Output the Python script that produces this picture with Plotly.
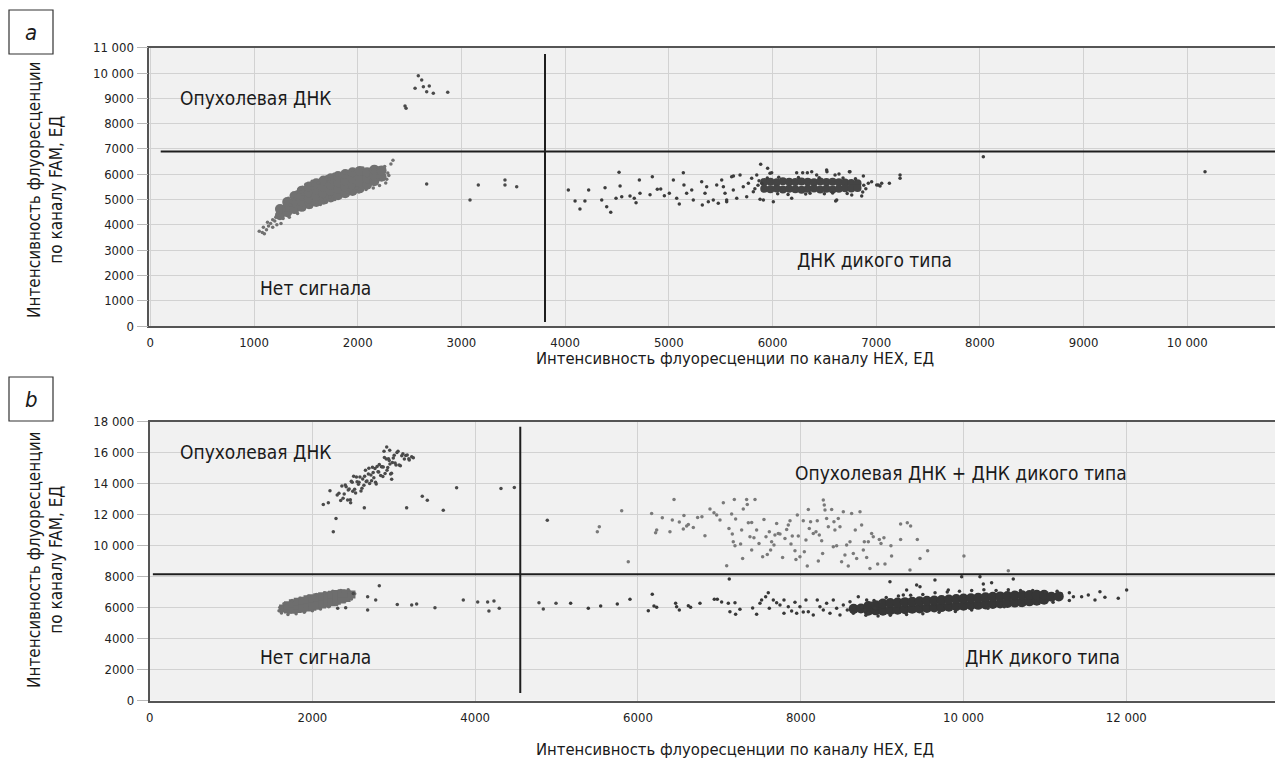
import plotly.graph_objects as go

# ---------------- Panel a data (HEX, FAM intensity) ----------------
a_xticks = [0, 1000, 2000, 3000, 4000, 5000, 6000, 7000, 8000, 9000, 10000]
a_xtext = ["0", "1000", "2000", "3000", "4000", "5000", "6000", "7000", "8000", "9000", "10 000"]
a_yticks = [0, 1000, 2000, 3000, 4000, 5000, 6000, 7000, 8000, 9000, 10000, 11000]
a_ytext = ["0", "1000", "2000", "3000", "4000", "5000", "6000", "7000", "8000", "9000", "10 000", "11 000"]

a_thr_hex = 3806
a_thr_hex_span = [160, 10750]
a_thr_fam = 6900
a_thr_fam_span = [100, 10923]

# "no signal" cluster: dense core and scattered droplets
a_neg_core = [
    (1250, 4380), (1250, 4620),
    (1320, 4500), (1320, 4700), (1320, 4900),
    (1390, 4620), (1390, 4880), (1390, 5140),
    (1460, 4710), (1460, 4920), (1460, 5140), (1460, 5350),
    (1530, 4810), (1530, 5040), (1530, 5280), (1530, 5510),
    (1600, 4900), (1600, 5150), (1600, 5390), (1600, 5640),
    (1670, 4990), (1670, 5250), (1670, 5490), (1670, 5750),
    (1740, 5080), (1740, 5340), (1740, 5580), (1740, 5840),
    (1810, 5170), (1810, 5430), (1810, 5670), (1810, 5930),
    (1880, 5250), (1880, 5510), (1880, 5750), (1880, 6010),
    (1950, 5340), (1950, 5590), (1950, 5830), (1950, 6080),
    (2020, 5440), (2020, 5680), (2020, 5900), (2020, 6130),
    (2090, 5580), (2090, 5830), (2090, 6080),
    (2160, 5720), (2160, 5950), (2160, 6180),
    (2230, 5900), (2230, 6150),
]
a_neg_edge = [
    (1050, 3750), (1080, 3700), (1100, 3650), (1120, 3800), (1090, 3900), (1140, 3950),
    (1160, 4050), (1130, 4100), (1180, 3900), (1200, 4150), (1220, 4000), (1210, 4300),
    (1260, 4050), (1280, 4250), (1300, 4950), (1340, 4300), (1370, 5200), (1420, 4450),
    (1450, 5300), (1480, 4600), (1500, 5600), (1550, 4700), (1620, 5650), (1640, 4800),
    (1700, 4900), (1720, 5800), (1780, 5000), (1800, 5950), (1860, 5150), (1870, 6050),
    (1940, 5250), (1950, 6150), (2010, 5300), (2050, 6250), (2080, 5400), (2120, 6200),
    (2150, 5450), (2200, 6250), (2210, 5550), (2260, 6300), (2280, 5800), (2290, 6050),
    (2300, 5950), (2320, 6400), (2340, 6550), (2270, 5650), (1560, 5450), (1400, 5050),
    (1180, 4200), (1230, 4480), (1290, 4600), (1350, 4780), (1420, 5000), (1490, 4720),
    (1570, 4850), (1650, 5000), (1730, 5100), (1900, 5300), (1990, 5450), (2190, 5800),
    (1330, 5050), (1410, 5300), (1470, 5480), (1560, 5720), (1700, 5900), (1770, 6000),
]
# tumour DNA droplets
a_mut = [
    (2584, 9893), (2617, 9723), (2553, 9394), (2633, 9460), (2690, 9486),
    (2665, 9262), (2729, 9198), (2868, 9237), (2456, 8696), (2466, 8605),
]
# scattered droplets between clusters
a_mid = [(2665, 5613), (3163, 5573), (3083, 4980), (3420, 5771), (3420, 5573), (3533, 5506)]
# wild-type cluster
a_wt_core = [
    (5920, 5690), (5980, 5700), (6040, 5680), (6100, 5720), (6160, 5700), (6220, 5690),
    (6280, 5710), (6340, 5700), (6400, 5680), (6460, 5710), (6520, 5690), (6580, 5700),
    (6640, 5680), (6700, 5670), (6760, 5650), (6820, 5640),
    (5920, 5420), (5980, 5410), (6040, 5430), (6100, 5400), (6160, 5420), (6220, 5410),
    (6280, 5390), (6340, 5420), (6400, 5430), (6460, 5400), (6520, 5420), (6580, 5400),
    (6640, 5420), (6700, 5440), (6760, 5430), (6820, 5450),
]
a_wt_edge = [
    (4031, 5375), (4096, 4941), (4143, 4625), (4191, 4941), (4227, 5375), (4353, 4980),
    (4385, 5467), (4401, 4717), (4440, 4493), (4491, 5046), (4520, 6074), (4530, 5534),
    (4546, 5112), (4626, 5138), (4667, 5046), (4684, 4875), (4716, 5771), (4722, 5244),
    (4819, 5190), (4841, 5901), (4889, 5402), (4922, 5415), (4957, 5151), (5005, 5244),
    (5044, 5771), (5076, 5046), (5101, 4822), (5140, 6060), (5146, 5573), (5172, 5244),
    (5221, 5375), (5236, 4980), (5317, 5705), (5323, 4783), (5349, 5244), (5365, 5506),
    (5381, 4914), (5429, 4980), (5462, 5573), (5477, 4849), (5510, 5771), (5542, 5244),
    (5558, 4914), (5606, 5901), (5622, 5375), (5655, 5046), (5687, 5968), (5718, 5506),
    (5751, 5112), (5799, 5836), (5815, 5310), (5848, 5968), (5886, 6391), (5896, 5639),
    (5912, 4980), (5953, 6232), (5976, 6034),
    (5992, 6061), (6233, 6061), (6291, 6061), (6336, 6061), (6378, 6100), (6426, 5969),
    (6522, 6166), (6603, 5969), (6641, 6008), (6741, 6100), (6764, 5178), (6619, 4980),
    (6008, 4914), (5880, 5007), (6185, 5046), (6362, 5244), (6860, 5138), (6876, 5929),
    (5558, 4980), (5526, 5507), (5623, 5929), (5767, 5639), (6924, 5639), (6956, 5705),
    (7005, 5573), (7037, 5534), (7127, 5639), (7230, 5969), (7230, 5837), (6525, 6100),
    (6747, 6100), (6609, 4941), (7020, 5573), (7053, 5639), (8033, 6692), (10171, 6100),
    (5950, 5850), (6060, 5880), (6150, 5200), (6250, 5870), (6320, 5220), (6450, 5860),
    (6500, 5230), (6680, 5850), (6720, 5240), (6800, 5820), (6050, 5230), (6580, 5260),
    (5860, 5560), (5830, 5420), (6880, 5560), (6900, 5420), (5870, 5740), (6870, 5300),
]

# ---------------- Panel b data ----------------
b_xticks = [0, 2000, 4000, 6000, 8000, 10000, 12000]
b_xtext = ["0", "2000", "4000", "6000", "8000", "10 000", "12 000"]
b_yticks = [0, 2000, 4000, 6000, 8000, 10000, 12000, 14000, 16000, 18000]
b_ytext = ["0", "2000", "4000", "6000", "8000", "10 000", "12 000", "14 000", "16 000", "18 000"]

b_thr_hex = 4554
b_thr_hex_span = [480, 17670]
b_thr_fam = 8150
b_thr_fam_span = [40, 13826]

b_neg_core = [
    (1640, 5943),
    (1700, 5870), (1700, 6150),
    (1760, 5860), (1760, 6280),
    (1820, 5900), (1820, 6150), (1820, 6380),
    (1880, 5960), (1880, 6200), (1880, 6440),
    (1940, 6000), (1940, 6267), (1940, 6530),
    (2000, 6060), (2000, 6332), (2000, 6600),
    (2060, 6120), (2060, 6397), (2060, 6670),
    (2120, 6190), (2120, 6462), (2120, 6730),
    (2180, 6270), (2180, 6526), (2180, 6780),
    (2240, 6350), (2240, 6591), (2240, 6830),
    (2300, 6440), (2300, 6656), (2300, 6870),
    (2360, 6520), (2360, 6721), (2360, 6920),
    (2420, 6620), (2420, 6900),
    (2480, 6850),
]
b_neg_edge = [
    (1590, 5800), (1600, 6000), (1620, 5650), (1650, 6250), (1700, 5550), (1750, 6450),
    (1800, 5600), (1850, 6600), (1900, 5700), (1950, 6750), (2000, 5800), (2050, 6850),
    (2100, 5900), (2150, 6950), (2200, 6050), (2250, 7050), (2300, 6200), (2350, 7100),
    (2400, 6400), (2450, 7000), (2500, 6750), (2520, 6900), (2480, 6550), (2440, 7150),
]
b_mut = [
    (2305, 13269), (2348, 12907), (2362, 13842), (2391, 13334), (2415, 13801), (2433, 12939),
    (2452, 13660), (2478, 14153), (2496, 13510), (2507, 14476), (2531, 13392), (2549, 14130),
    (2566, 13954), (2584, 14432), (2597, 13524), (2618, 14301), (2633, 13889), (2652, 14860),
    (2671, 14170), (2688, 14625), (2703, 14003), (2719, 14554), (2738, 15065), (2755, 14389),
    (2769, 14984), (2784, 13982), (2806, 14762), (2822, 15244), (2839, 14528), (2857, 15086),
    (2871, 15080), (2893, 14651), (2908, 15589), (2926, 15046), (2944, 15494), (2961, 14628),
    (2983, 15359), (3005, 15839), (3027, 15210), (3052, 16100), (3081, 15152), (3112, 15932),
    (3147, 15814), (3185, 15600),
    (2326, 13386), (2377, 13050), (2404, 13906), (2441, 13594), (2466, 12964), (2489, 14088),
    (2519, 13634), (2541, 14434), (2573, 14087), (2609, 13702), (2642, 14478), (2661, 14138),
    (2694, 14994), (2727, 14190), (2747, 14714), (2776, 14096), (2795, 15107), (2815, 14751),
    (2848, 15087), (2866, 14464), (2885, 15685), (2917, 14858), (2935, 15615), (2953, 15263),
    (2972, 14664), (2994, 15654), (3016, 15334), (3039, 16008), (3066, 15204), (3098, 15807),
    (3130, 15589), (3165, 15850),
    (2913, 16374), (2880, 16100), (2950, 16150), (3220, 15730), (3190, 15520), (3240, 15680),
    (2134, 12658), (2196, 12761), (2216, 13536), (2290, 11755), (2257, 10890), (2470, 12761),
    (2638, 12439), (2974, 14290), (3158, 12439), (3350, 13194), (3412, 12936), (3608, 12290),
    (3772, 13729), (4317, 13690), (4481, 13755), (4886, 11645),
]
b_mid = [
    (2311, 5948), (2409, 5987), (2503, 6916), (2679, 6697), (2679, 5839), (2778, 6484),
    (2822, 7406), (3043, 6206), (3220, 6161), (3281, 6226), (3506, 5987), (3854, 6484),
    (4031, 6355), (4153, 6355), (4231, 6419), (4169, 5774), (4296, 5948), (4784, 6310),
    (4837, 5903), (4993, 6271),
]
b_dp = [
    (5501, 10895), (5525, 11217), (5800, 12249), (5881, 8960), (6168, 12077), (6230, 11002),
    (6217, 10830), (6299, 11797), (6393, 10895), (6443, 12980), (6422, 11647), (6508, 11518),
    (6565, 11948), (6557, 11066), (6598, 11260), (6619, 11367), (6680, 11174), (6733, 11819),
    (6786, 11862), (6823, 10637), (6885, 12357), (6934, 12120), (6967, 11969), (7008, 11647),
    (7049, 12765), (7090, 8701), (7118, 11110), (7151, 12034), (7159, 10744), (7184, 12980),
    (7200, 11711), (7171, 10250), (7192, 9992), (7261, 10099), (7274, 11002), (7294, 12357),
    (7286, 9175), (7343, 12658), (7356, 11475), (7335, 12980), (7376, 10572), (7397, 11497),
    (7438, 12980), (7425, 10508), (7397, 9712), (7458, 11002), (7487, 10142), (7532, 9282),
    (7548, 11690), (7573, 10572), (7589, 9433), (7614, 10895), (7630, 9712), (7642, 10250),
    (7671, 10035), (7683, 10680), (7724, 10787), (7704, 11432), (7745, 10744), (7777, 9239),
    (7806, 10465), (7827, 11045), (7847, 11324), (7868, 11604), (7880, 10099), (7896, 10615),
    (7929, 9669), (7941, 9110), (7958, 11969), (7970, 10615), (7990, 9282), (8031, 11604),
    (8044, 9604), (8064, 10357), (8080, 8680), (8093, 12335), (8105, 11110), (8121, 11540),
    (8154, 10787), (8187, 10895), (8203, 11604), (8216, 9003), (8228, 10680), (8257, 10314),
    (8269, 9497), (8277, 12937), (8289, 12614), (8298, 12292), (8318, 11755), (8339, 11217),
    (8380, 12335), (8400, 9927), (8408, 11540), (8420, 11002), (8441, 9992), (8461, 11755),
    (8482, 11217), (8502, 8960), (8523, 12185), (8543, 9390), (8564, 10035), (8584, 8680),
    (8605, 10250), (8625, 12077), (8646, 9497), (8670, 11002), (8687, 9175), (8728, 12185),
    (8748, 11324), (8769, 9712), (8781, 10250), (8810, 9239), (8830, 10250), (8850, 8530),
    (8871, 10787), (8891, 10572), (8945, 8809), (8965, 10400), (8986, 10142), (9022, 10508),
    (9035, 8809), (9108, 9992), (9116, 9325), (9227, 11389), (9227, 10400), (9309, 11475),
    (9350, 11260), (9342, 8422), (9432, 10400), (9465, 9175), (9559, 9669), (10005, 9325),
    (10550, 8380),
]
b_wt_core = [
    (8650, 5916), (8740, 5945), (8830, 5800), (8830, 6100), (8920, 5820), (8920, 6150),
    (9010, 5800), (9010, 6260), (9100, 5830), (9100, 6290), (9190, 5860), (9190, 6320),
    (9280, 5890), (9280, 6350), (9370, 5920), (9370, 6380), (9460, 5945), (9460, 6405),
    (9550, 5975), (9550, 6435), (9640, 6000), (9640, 6460), (9730, 6030), (9730, 6490),
    (9820, 6060), (9820, 6520), (9910, 6090), (9910, 6550), (10000, 6120), (10000, 6580),
    (10090, 6150), (10090, 6605), (10180, 6175), (10180, 6635), (10270, 6200), (10270, 6665),
    (10360, 6235), (10360, 6695), (10450, 6260), (10450, 6720), (10540, 6290), (10540, 6750),
    (10630, 6320), (10630, 6780), (10720, 6350), (10720, 6800), (10810, 6400), (10810, 6810),
    (10900, 6450), (10900, 6820), (10990, 6500), (10990, 6830), (11080, 6694), (11170, 6722),
]
b_wt_edge = [
    (5173, 6272), (5390, 5950), (5542, 6100), (5746, 6229), (5902, 6530), (6127, 5799),
    (6176, 6853), (6197, 6100), (6230, 6014), (6463, 6272), (6475, 6057), (6508, 5842),
    (6619, 6122), (6647, 6014), (6762, 6272), (6938, 6530), (6975, 6530), (7028, 6358),
    (7110, 6272), (7122, 7842), (7130, 5735), (7192, 6315), (7200, 5563), (7253, 5885),
    (7409, 5971), (7458, 5563), (7499, 6272), (7519, 6487), (7569, 6702), (7601, 6960),
    (7614, 5950), (7663, 6487), (7704, 6315), (7745, 6165), (7794, 6487), (7794, 5627),
    (7847, 6057), (7888, 5778), (7929, 6337), (7950, 5627), (7990, 6057), (8031, 5713),
    (8064, 6487), (8093, 5735), (8154, 5520), (8203, 6487), (8236, 6057), (8277, 5842),
    (8318, 6272), (8359, 5627), (8400, 6487), (8441, 5950), (8482, 5520), (8523, 6165),
    (8572, 5842), (8605, 6380), (8646, 5627), (8707, 6702), (8748, 6057), (8789, 5842),
    (8810, 6487), (8830, 5627), (8871, 6272), (8912, 5950), (8973, 6380), (9096, 7670),
    (9260, 6810), (9301, 7132), (9424, 7455), (9465, 7347), (9649, 7777), (9813, 7132),
    (9977, 7992), (10202, 7992), (10243, 7520), (10345, 7605), (10611, 7842),
    (9050, 6650), (9200, 6750), (9350, 6800), (9500, 6850), (9650, 6950), (9800, 7000),
    (9950, 7050), (10100, 7100), (10250, 7150), (10400, 7100), (10550, 7150), (10700, 7100),
    (10850, 7100), (11000, 7000), (11150, 7050), (11300, 6950), (9100, 5500), (9300, 5550),
    (9500, 5600), (9700, 5700), (9900, 5750), (10100, 5850), (10300, 5950), (10500, 6050),
    (10700, 6150), (10900, 6250), (11100, 6350), (11300, 6450), (11200, 6900), (11350, 6700),
    (11451, 6702), (11533, 6810), (11615, 6487), (11676, 7025), (11737, 6660), (11901, 6595),
    (12004, 7132), (8900, 6450), (8800, 5500), (8950, 5450),
]

labels_a = [
    ("Опухолевая ДНК", 267, 9012),
    ("Нет сигнала", 1040, 1502),
    ("ДНК дикого типа", 6217, 2609),
]
labels_b = [
    ("Опухолевая ДНК", 349, 16032),
    ("Нет сигнала", 1332, 2806),
    ("Опухолевая ДНК + ДНК дикого типа", 7904, 14677),
    ("ДНК дикого типа", 9992, 2806),
]
x_title = "Интенсивность флуоресценции по каналу HEX, ЕД"
y_title = "Интенсивность флуоресценции<br>по каналу FAM, ЕД"

FONT = "'DejaVu Sans Condensed', 'Liberation Sans Narrow', sans-serif"

# the page places the figure 8 px from the top-left corner of the window
W, H, OFF = 1275, 756, 8


def px(X):
    return (X - OFF) / W


def py(Y):
    return 1 - (Y - OFF) / H


fig = go.Figure()


def pts(data, xa, ya, color, size, symbol="circle"):
    xs, ys = zip(*data)
    fig.add_trace(go.Scatter(x=list(xs), y=list(ys), mode="markers", xaxis=xa, yaxis=ya,
                             marker=dict(color=color, size=size, symbol=symbol, line=dict(width=0)),
                             hoverinfo="skip", showlegend=False))


# panel a
pts(a_neg_core, "x", "y", "#717171", 10)
pts(a_neg_edge, "x", "y", "#717171", 3.5)
pts(a_mut, "x", "y", "#4a4a4a", 3.5)
pts(a_mid, "x", "y", "#4a4a4a", 3.5)
pts(a_wt_core, "x", "y", "#444444", 8)
pts(a_wt_edge, "x", "y", "#3c3c3c", 3.5)
# panel b
pts(b_neg_core, "x2", "y2", "#6e6e6e", 8, "square")
pts(b_neg_edge, "x2", "y2", "#6e6e6e", 3.5)
pts(b_mut, "x2", "y2", "#4a4a4a", 3.5)
pts(b_mid, "x2", "y2", "#4a4a4a", 3.5)
pts(b_dp, "x2", "y2", "#7a7a7a", 3.5)
pts(b_wt_core, "x2", "y2", "#363636", 10)
pts(b_wt_edge, "x2", "y2", "#383838", 3.5)

# threshold lines
for xa, ya, hx, hspan, fy, fspan in [
    ("x", "y", a_thr_hex, a_thr_hex_span, a_thr_fam, a_thr_fam_span),
    ("x2", "y2", b_thr_hex, b_thr_hex_span, b_thr_fam, b_thr_fam_span),
]:
    fig.add_trace(go.Scatter(x=[hx, hx], y=hspan, mode="lines", xaxis=xa, yaxis=ya,
                             line=dict(color="#1e1e1e", width=2), hoverinfo="skip", showlegend=False))
    fig.add_trace(go.Scatter(x=fspan, y=[fy, fy], mode="lines", xaxis=xa, yaxis=ya,
                             line=dict(color="#1e1e1e", width=2), hoverinfo="skip", showlegend=False))

tickfont = dict(family=FONT, size=13, color="#222")
common_x = dict(showgrid=True, gridcolor="#d2d2d2", gridwidth=1, zeroline=False,
                showline=True, linecolor="#555555", linewidth=1.5, mirror=True,
                ticks="outside", ticklen=4, tickcolor="rgba(0,0,0,0)", tickfont=tickfont,
                tickmode="array", automargin=False)
common_y = dict(showgrid=True, gridcolor="#d2d2d2", gridwidth=1, zeroline=False,
                showline=True, linecolor="#555555", linewidth=1.5, mirror=False,
                ticks="outside", ticklen=11, tickcolor="#b8b8b8", tickwidth=1, tickfont=tickfont,
                tickmode="array", automargin=False)

fig.update_layout(
    width=W, height=H, autosize=False,
    margin=dict(l=0, r=0, t=0, b=0, pad=0, autoexpand=False),
    paper_bgcolor="white", plot_bgcolor="#f1f1f1",
    showlegend=False,
    xaxis=dict(common_x, domain=[px(149.3), 1.0], range=[-10, 10923], anchor="y",
               tickvals=a_xticks, ticktext=a_xtext),
    yaxis=dict(common_y, domain=[py(326), py(47.7)], range=[0, 11000], anchor="x",
               tickvals=a_yticks, ticktext=a_ytext),
    xaxis2=dict(common_x, domain=[px(149.6), 1.0], range=[0, 13925], anchor="y2",
                tickvals=b_xticks, ticktext=b_xtext),
    yaxis2=dict(common_y, domain=[py(700.5), py(421.7)], range=[0, 18000], anchor="x2",
                tickvals=b_yticks, ticktext=b_ytext),
)

ann = []
for text, x, y in labels_a:
    ann.append(dict(text=text, x=x, y=y, xref="x", yref="y", xanchor="left", yanchor="middle",
                    showarrow=False, font=dict(family=FONT, size=19, color="#1a1a1a")))
for text, x, y in labels_b:
    ann.append(dict(text=text, x=x, y=y, xref="x2", yref="y2", xanchor="left", yanchor="middle",
                    showarrow=False, font=dict(family=FONT, size=19, color="#1a1a1a")))
for Y in [358, 749]:
    ann.append(dict(text=x_title, x=px(735), y=py(Y), xref="paper", yref="paper",
                    xanchor="center", yanchor="middle", showarrow=False,
                    font=dict(family=FONT, size=16.5, color="#1a1a1a")))
for Y in [190, 560]:
    ann.append(dict(text=y_title, x=px(45), y=py(Y), xref="paper", yref="paper",
                    xanchor="center", yanchor="middle", showarrow=False, textangle=-90,
                    font=dict(family=FONT, size=17, color="#1a1a1a")))
for letter, top in [("a", 10), ("b", 377)]:
    ann.append(dict(text="<i>" + letter + "</i>", x=px(31), y=py(top + 22),
                    xref="paper", yref="paper", xanchor="center", yanchor="middle",
                    showarrow=False, font=dict(family=FONT, size=22, color="#1a1a1a")))
    fig.add_shape(type="rect", xref="paper", yref="paper",
                  x0=px(9), x1=px(53), y0=py(top + 44), y1=py(top),
                  line=dict(color="#333333", width=1.2), fillcolor="rgba(0,0,0,0)")
fig.update_layout(annotations=ann)

fig.write_html("out.html")
